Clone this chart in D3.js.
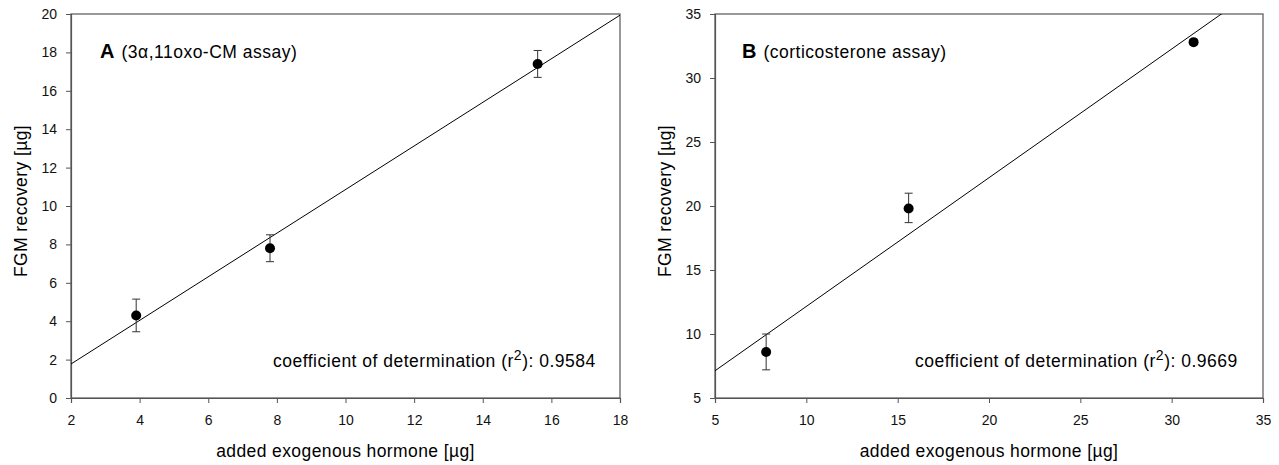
<!DOCTYPE html>
<html>
<head>
<meta charset="utf-8">
<script src="https://cdn.jsdelivr.net/npm/d3@7"></script>
<style>
  body { margin: 0; background: #fff; }
  svg { display: block; font-family: "Liberation Sans", Arial, sans-serif; }
</style>
</head>
<body>
<svg id="chart" width="1279" height="465"></svg>
<script>
// Panel A: 3α,11oxo-CM assay
const addedA = [3.9, 7.8, 15.6];
const recoveryA = [4.3, 7.8, 17.4];
const errUpA = [5.15, 8.5, 18.1];
const errLoA = [3.45, 7.1, 16.7];
const xTicksA = [2, 4, 6, 8, 10, 12, 14, 16, 18];
const yTicksA = [0, 2, 4, 6, 8, 10, 12, 14, 16, 18, 20];

// Panel B: corticosterone assay
const addedB = [7.8, 15.6, 31.2];
const recoveryB = [8.6, 19.8, 32.8];
const errUpB = [10.0, 21.0, 33.0];
const errLoB = [7.2, 18.7, 32.6];
const xTicksB = [5, 10, 15, 20, 25, 30, 35];
const yTicksB = [5, 10, 15, 20, 25, 30, 35];

const svg = d3.select("#chart");

// least-squares line through the plotted means
function fit(xs, ys) {
  const mx = d3.mean(xs), my = d3.mean(ys);
  const sxy = d3.sum(xs, (x, i) => (x - mx) * (ys[i] - my));
  const sxx = d3.sum(xs, x => (x - mx) * (x - mx));
  const b = sxy / sxx;
  return { slope: b, intercept: my - b * mx };
}

function panel(cfg) {
  const { left, right, top, bottom } = cfg;
  const g = svg.append("g");
  const x = d3.scaleLinear().domain(cfg.xDomain).range([left, right]);
  const y = d3.scaleLinear().domain(cfg.yDomain).range([bottom, top]);

  const clipId = "clip-" + cfg.id;
  g.append("clipPath").attr("id", clipId)
    .append("rect").attr("x", left).attr("y", top)
    .attr("width", right - left).attr("height", bottom - top);

  // frame
  g.append("rect").attr("x", left).attr("y", top)
    .attr("width", right - left).attr("height", bottom - top)
    .attr("fill", "none").attr("stroke", "#555").attr("stroke-width", 1.2);

  const xAxis = g.append("g").attr("transform", `translate(0,${bottom})`)
    .call(d3.axisBottom(x).tickValues(cfg.xTicks).tickSize(5).tickPadding(12).tickFormat(d3.format("d")));
  const yAxis = g.append("g").attr("transform", `translate(${left},0)`)
    .call(d3.axisLeft(y).tickValues(cfg.yTicks).tickSize(5).tickPadding(9).tickFormat(d3.format("d")));
  [xAxis, yAxis].forEach(a => {
    a.select(".domain").attr("stroke", "#555").attr("stroke-width", 1.2);
    a.selectAll(".tick line").attr("stroke", "#555");
    a.selectAll(".tick text").attr("font-family", "Liberation Sans, Arial, sans-serif").attr("font-size", 14).attr("fill", "#111");
  });

  // regression line
  const f = fit(cfg.xs, cfg.ys);
  const x0 = cfg.xDomain[0], x1 = cfg.xDomain[1];
  g.append("line").attr("clip-path", `url(#${clipId})`)
    .attr("x1", x(x0)).attr("y1", y(f.intercept + f.slope * x0))
    .attr("x2", x(x1)).attr("y2", y(f.intercept + f.slope * x1))
    .attr("stroke", "#000").attr("stroke-width", 1);

  // error bars
  const eb = g.append("g").attr("stroke", "#333").attr("stroke-width", 1);
  cfg.xs.forEach((xv, i) => {
    const cx = x(xv);
    eb.append("line").attr("x1", cx).attr("x2", cx).attr("y1", y(cfg.up[i])).attr("y2", y(cfg.lo[i]));
    eb.append("line").attr("x1", cx - 4).attr("x2", cx + 4).attr("y1", y(cfg.up[i])).attr("y2", y(cfg.up[i]));
    eb.append("line").attr("x1", cx - 4).attr("x2", cx + 4).attr("y1", y(cfg.lo[i])).attr("y2", y(cfg.lo[i]));
  });

  // points
  g.selectAll("circle.pt").data(cfg.xs).join("circle").attr("class", "pt")
    .attr("cx", d => x(d)).attr("cy", (d, i) => y(cfg.ys[i])).attr("r", 5).attr("fill", "#000");

  // panel label
  const t = g.append("text").attr("x", cfg.labelX).attr("y", 58).attr("fill", "#000");
  t.append("tspan").attr("font-weight", "bold").attr("font-size", 20).text(cfg.letter);
  t.append("tspan").attr("font-size", 17.5).attr("letter-spacing", 0.5).attr("dx", 7).text(cfg.title);

  // coefficient of determination
  const c = g.append("text").attr("x", cfg.coefX).attr("y", 367).attr("font-size", 17.5)
    .attr("letter-spacing", 0.5).attr("fill", "#000");
  c.append("tspan").text("coefficient of determination (r");
  c.append("tspan").attr("font-size", 14).attr("dy", -7).text("2");
  c.append("tspan").attr("dy", 7).text("): " + cfg.r2);

  // axis titles
  g.append("text").attr("x", (left + right) / 2).attr("y", 457).attr("text-anchor", "middle")
    .attr("font-size", 17.5).attr("letter-spacing", 0.4).attr("fill", "#000").text("added exogenous hormone [µg]");
  g.append("text").attr("transform", `translate(${cfg.yTitleX},${(top + bottom) / 2 - 5}) rotate(-90)`)
    .attr("text-anchor", "middle").attr("font-size", 17.5).attr("letter-spacing", 0.4).attr("fill", "#000").text("FGM recovery [µg]");
}

panel({
  id: "a", left: 71, right: 620, top: 14, bottom: 398,
  xDomain: [2, 18], yDomain: [0, 20], xTicks: xTicksA, yTicks: yTicksA,
  xs: addedA, ys: recoveryA, up: errUpA, lo: errLoA,
  letter: "A", title: "(3α,11oxo-CM assay)", labelX: 100,
  coefX: 273, r2: "0.9584", yTitleX: 27
});

panel({
  id: "b", left: 715, right: 1263, top: 14, bottom: 398,
  xDomain: [5, 35], yDomain: [5, 35], xTicks: xTicksB, yTicks: yTicksB,
  xs: addedB, ys: recoveryB, up: errUpB, lo: errLoB,
  letter: "B", title: "(corticosterone assay)", labelX: 742,
  coefX: 915, r2: "0.9669", yTitleX: 671
});
</script>
</body>
</html>
